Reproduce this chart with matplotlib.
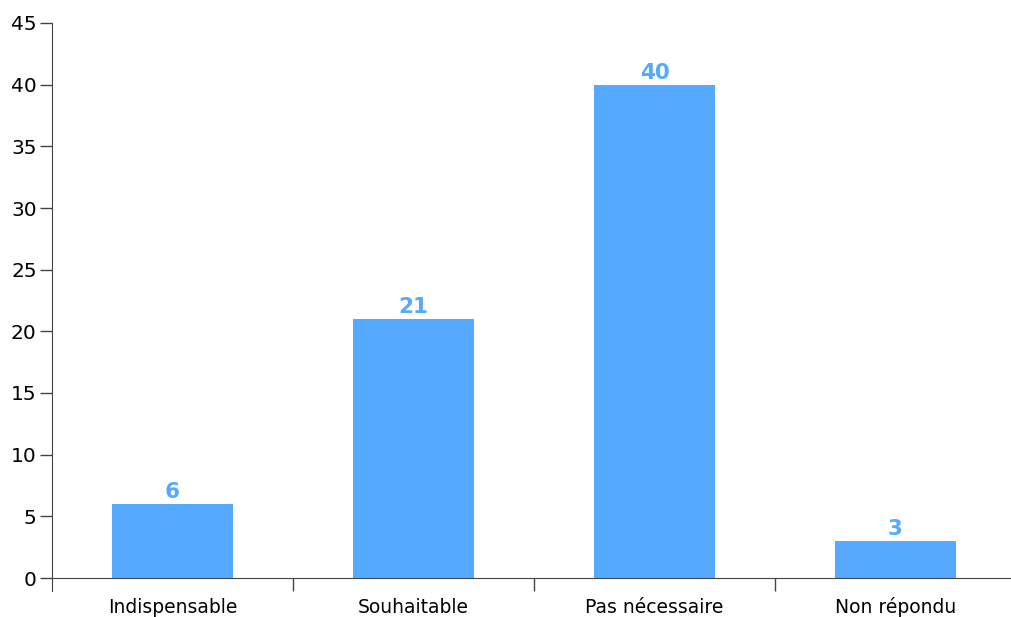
import matplotlib.pyplot as plt

categories = ['Indispensable', 'Souhaitable', 'Pas nécessaire', 'Non répondu']
values = [6, 21, 40, 3]
yticks = [0, 5, 10, 15, 20, 25, 30, 35, 40, 45]

bar_color = '#55AAFF'
axis_color = '#444444'

fig = plt.figure(figsize=(10.11, 6.17), dpi=100)
W, H = 1011, 617
ax = fig.add_axes([52 / W, (H - 591) / H, (W - 52) / W, (591 - 23) / H])

x = list(range(len(categories)))
ax.bar(x, values, width=0.5, color=bar_color, zorder=2)

for xi, v in zip(x, values):
    ax.annotate(str(v), (xi, v), xytext=(0, 1.5), textcoords='offset points',
                ha='center', va='bottom', color=bar_color,
                fontsize=15.5, fontweight='bold')

# axes limits: 0 at y=578, 45 at y=23, spine continues a bit below zero
unit = (578 - 23) / 45
ax.set_ylim(-(591 - 578) / unit, 45)
ax.set_xlim(-0.5, -0.5 + (W - 52) / 241)

for s in ['top', 'right']:
    ax.spines[s].set_visible(False)
ax.spines['left'].set_color(axis_color)
ax.spines['bottom'].set_color(axis_color)
ax.spines['left'].set_bounds(-(591 - 578) / unit, 45)
ax.spines['bottom'].set_position(('data', 0))

ax.set_yticks(yticks)
ax.tick_params(axis='y', direction='out', length=9, width=1, color=axis_color,
               labelsize=14.5, pad=2)

# boundaries as major ticks, category names as minor ticks
ax.set_xticks([0.5, 1.5, 2.5])
ax.set_xticklabels([])
ax.set_xticks(x, minor=True)
ax.set_xticklabels(categories, minor=True, va='baseline')
ax.tick_params(axis='x', which='major', direction='out', length=9.5,
               width=1, color=axis_color)
ax.tick_params(axis='x', which='minor', length=0, pad=25.5, labelsize=13.5)

fig.savefig('out.png', dpi=100)
